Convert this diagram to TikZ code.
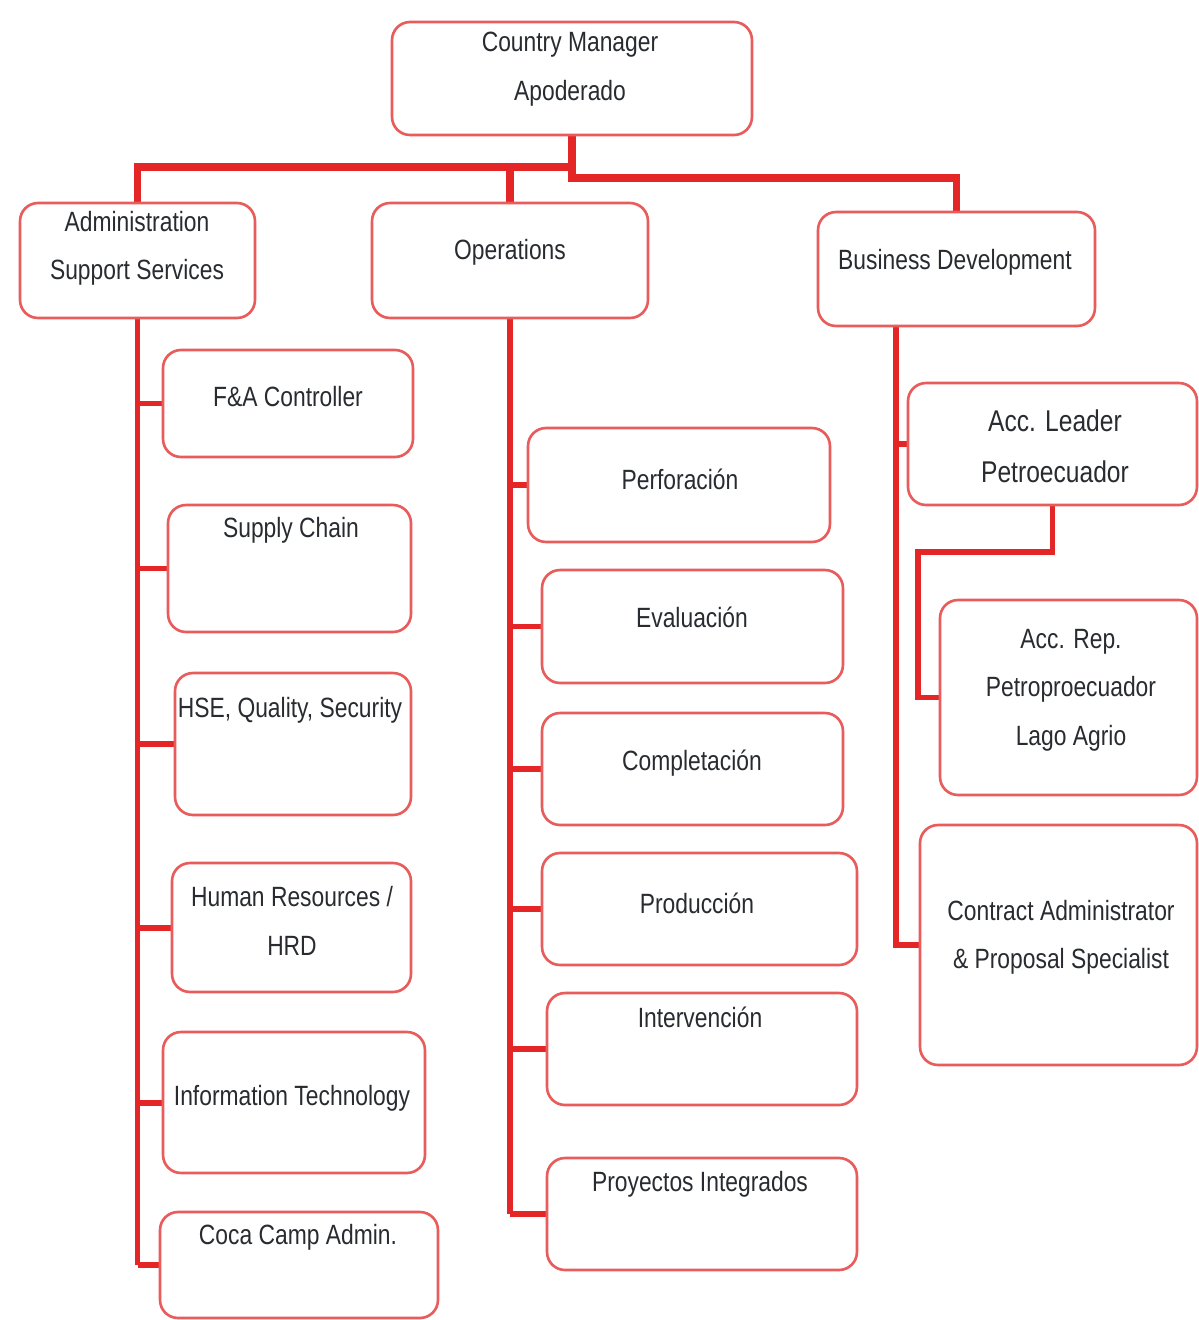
\documentclass[tikz,border=0pt]{standalone}
\usepackage{fontspec}
\setmainfont{Liberation Sans}
\usetikzlibrary{calc,backgrounds}
\definecolor{wirered}{RGB}{228,38,38}
\definecolor{boxred}{RGB}{232,92,92}
\definecolor{ink}{RGB}{40,44,48}
% slightly tall lettering
\newcommand\tallt[1]{\scalebox{1}[1.22]{#1}}
\tikzset{
  box/.style={draw=boxred, line width=1.5pt, rounded corners=0.36cm, fill=white, inner sep=0pt},
  wire/.style={draw=wirered, line width=4.2pt, line join=miter},
  spine/.style={draw=wirered, line width=3.4pt, line join=miter},
  lbl/.style={text=ink, font=\fontsize{13}{27.5}\selectfont, align=center, inner sep=0pt}
}
\begin{document}
\begin{tikzpicture}[x=0.02cm, y=-0.02cm]
\useasboundingbox (0,0) rectangle (1199,1320);

% top
\node[box, minimum width=7.2cm, minimum height=2.26cm] (cm) at (572,78.5) {};
% second level
\node[box, minimum width=4.7cm, minimum height=2.3cm] (admin) at (137.5,260.5) {};
\node[box, minimum width=5.52cm, minimum height=2.3cm] (ops) at (510,260.5) {};
\node[box, minimum width=5.54cm, minimum height=2.28cm] (bd) at (956.5,269) {};
% administration column
\node[box, minimum width=5.0cm, minimum height=2.14cm] (fa) at (288,403.5) {};
\node[box, minimum width=4.86cm, minimum height=2.54cm] (sc) at (289.5,568.5) {};
\node[box, minimum width=4.72cm, minimum height=2.84cm] (hse) at (293,744) {};
\node[box, minimum width=4.78cm, minimum height=2.58cm] (hr) at (291.5,927.5) {};
\node[box, minimum width=5.24cm, minimum height=2.82cm] (it) at (294,1102.5) {};
\node[box, minimum width=5.56cm, minimum height=2.12cm] (coca) at (299,1265) {};
% operations column
\node[box, minimum width=6.04cm, minimum height=2.28cm] (perf) at (679,485) {};
\node[box, minimum width=6.02cm, minimum height=2.26cm] (eval) at (692.5,626.5) {};
\node[box, minimum width=6.02cm, minimum height=2.24cm] (comp) at (692.5,769) {};
\node[box, minimum width=6.3cm, minimum height=2.24cm] (prod) at (699.5,909) {};
\node[box, minimum width=6.2cm, minimum height=2.24cm] (interv) at (702,1049) {};
\node[box, minimum width=6.2cm, minimum height=2.24cm] (proy) at (702,1214) {};
% business development column
\node[box, minimum width=5.78cm, minimum height=2.44cm] (accl) at (1052.5,444) {};
\node[box, minimum width=5.14cm, minimum height=3.9cm] (accr) at (1068.5,697.5) {};
\node[box, minimum width=5.54cm, minimum height=4.8cm] (ctr) at (1058.5,945) {};

% labels
\node[lbl] (cmT) at (570,69) {\tallt{Country Manager}\\\tallt{Apoderado}};
\node[lbl] (adminT) at (137,248.5) {\tallt{Administration}\\\tallt{Support Services}};
\node[lbl] (opsT) at (510,252) {\tallt{Operations}};
\node[lbl] (bdT) at (955,262) {\tallt{Business Development}};
\node[lbl] (faT) at (288,397) {\tallt{F\&A Controller}};
\node[lbl] (scT) at (291,530) {\tallt{Supply Chain}};
\node[lbl] (hseT) at (290,710) {\tallt{HSE, Quality, Security}};
\node[lbl] (hrT) at (292,921) {\tallt{Human Resources /}\\\tallt{HRD}};
\node[lbl] (itT) at (292,1098) {\tallt{Information Technology}};
\node[lbl] (cocaT) at (298,1237) {\tallt{Coca Camp Admin.}};
\node[lbl] (perfT) at (680,479) {\tallt{Perforación}};
\node[lbl] (evalT) at (692,617) {\tallt{Evaluación}};
\node[lbl] (compT) at (692,763) {\tallt{Completación}};
\node[lbl] (prodT) at (697,903) {\tallt{Producción}};
\node[lbl] (intervT) at (700,1017) {\tallt{Intervención}};
\node[lbl] (proyT) at (700,1184) {\tallt{Proyectos Integrados}};
\node[lbl, font=\fontsize{14}{29}\selectfont] (acclT) at (1055,446) {\tallt{Acc. Leader}\\\tallt{Petroecuador}};
\node[lbl] (accrT) at (1071,690) {\tallt{Acc. Rep.}\\\tallt{Petroproecuador}\\\tallt{Lago Agrio}};
\node[lbl] (ctrT) at (1061,937) {\tallt{Contract Administrator}\\\tallt{\& Proposal Specialist}};

% bus levels and bends
\coordinate (busL) at (0,167);
\coordinate (busR) at (0,178);
\coordinate (bdsp) at ($(bd.south west)!0.285!(bd.south east)$);
\coordinate (lj) at (918,552);

\begin{pgfonlayer}{background}
  % top level buses
  \draw[wire] (cm.south) -- (cm.south |- busR) -| (bd.north);
  \draw[wire] (cm.south |- busL) -| (admin.north);
  \draw[wire] (ops.north |- busL) -- (ops.north);
  % administration spine
  \draw[spine] (admin.south) -- (admin.south |- coca.west);
  \foreach \n in {fa,sc,hse,hr,it,coca}
    \draw[spine] (admin.south |- \n.west) -- (\n.west);
  % operations spine
  \draw[spine] (ops.south) -- (ops.south |- proy.west);
  \foreach \n in {perf,eval,comp,prod,interv,proy}
    \draw[spine] (ops.south |- \n.west) -- (\n.west);
  % business development spine
  \draw[spine] (bdsp) -- (bdsp |- ctr.west) -- (ctr.west);
  \draw[spine] (bdsp |- accl.west) -- (accl.west);
  \draw[spine] (accl.south) |- (lj) |- (accr.west);
\end{pgfonlayer}
\end{tikzpicture}
\end{document}
